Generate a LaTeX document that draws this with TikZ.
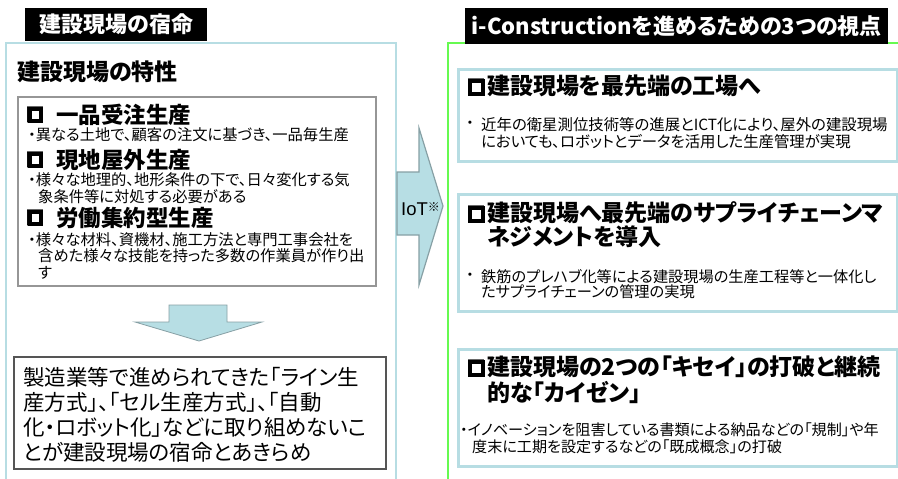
\documentclass[tikz,border=0pt]{standalone}
\usepackage{fontspec}
\setmainfont{Noto Sans CJK JP}[RawFeature=+palt]
\newfontfamily\latinf{Liberation Sans}
\definecolor{lblue}{RGB}{183,221,227}
\definecolor{afill}{RGB}{183,222,228}
\definecolor{adraw}{RGB}{135,160,165}
\definecolor{lgreen}{RGB}{102,250,80}
\definecolor{tgray}{RGB}{150,150,150}
\definecolor{bgray}{RGB}{85,85,85}
\begin{document}
\begin{tikzpicture}[x=1pt,y=-1pt,
  panel/.style={draw, line width=2pt, anchor=north west, inner sep=0pt, fill=white},
  titlebar/.style={fill=black, text=white, anchor=north west, inner sep=0pt, font=\bfseries\fontsize{22}{22}\selectfont},
  card/.style={draw=lblue, line width=2.5pt, anchor=north west, inner sep=0pt, fill=white},
  frame/.style={anchor=north west, inner sep=0pt, line width=1.5pt},
  txt/.style={anchor=west, inner sep=0pt, align=left},
  head/.style={txt, font=\bfseries\fontsize{22.5}{24}\selectfont},
  rhead/.style={txt, font=\bfseries\fontsize{23}{24}\selectfont},
  sq/.style={anchor=center, inner sep=0pt, font=\bfseries\fontsize{20}{20}\selectfont},
  sqL/.style={line width=4pt},
  small/.style={txt, font=\fontsize{15.3}{16.5}\selectfont},
  blockarrow/.style={fill=afill, draw=adraw}
]
\useasboundingbox (0,0) rectangle (898,479);
\clip (0,0) rectangle (898,479);
\fill[white] (0,0) rectangle (898,479);

% panels
\node[panel, draw=lblue, minimum width=390pt, minimum height=460pt] (lpanel) at (5,42) {};
\node[panel, draw=lgreen, minimum width=460pt, minimum height=460pt] (rpanel) at (447,42) {};

% title bars
\node[titlebar, minimum width=182pt, minimum height=33pt] (ltitle) at (25,8) {建設現場の宿命};
\node[titlebar, minimum width=423pt, minimum height=36pt] (rtitle) at (465,8) {i-Constructionを進めるための3つの視点};

% left content
\node[head, font=\bfseries\fontsize{23}{24}\selectfont] (lsub) at (17,72) {建設現場の特性};
\node[frame, draw=tgray, minimum width=358pt, minimum height=189pt] (traits) at (17,96) {};

\node[sq] (s1) at (35.5,115) {□};
\draw[sqL] ([shift={(-5.8,-5.8)}]s1.center) rectangle ([shift={(5.8,5.8)}]s1.center);
\node[head] (h1) at (56,115) {一品受注生産};
\node[small] (b1) at (28,135) {・異なる土地で、顧客の注文に基づき、一品毎生産};

\node[sq] (s2) at (35.5,160) {□};
\draw[sqL] ([shift={(-5.8,-5.8)}]s2.center) rectangle ([shift={(5.8,5.8)}]s2.center);
\node[head] (h2) at (56,160) {現地屋外生産};
\node[small] (b2) at (28,188) {・様々な地理的、地形条件の下で、日々変化する気\\\hspace*{10pt}象条件等に対処する必要がある};

\node[sq] (s3) at (35.5,218) {□};
\draw[sqL] ([shift={(-5.8,-5.8)}]s3.center) rectangle ([shift={(5.8,5.8)}]s3.center);
\node[head] (h3) at (56,218) {労働集約型生産};
\node[small] (b3) at (28,255.5) {・様々な材料、資機材、施工方法と専門工事会社を\\\hspace*{10pt}含めた様々な技能を持った多数の作業員が作り出\\\hspace*{10pt}す};

\filldraw[blockarrow, line width=0.8pt] (169,305) -- (227,305) -- (227,322) -- (262,322) -- (199,341) -- (135,322) -- (169,322) -- cycle;

\node[frame, draw=bgray, minimum width=372pt, minimum height=112pt] (fate) at (13,356) {};
\node[txt, font=\fontsize{21.5}{25}\selectfont] (fatetxt) at (23,414.5) {製造業等で進められてきた「ライン生\\産方式」、「セル生産方式」、「自動\\化・ロボット化」などに取り組めないこ\\とが建設現場の宿命とあきらめ};

% IoT arrow
\filldraw[blockarrow, line width=1.2pt] (397,172) -- (419,172) -- (419,128) -- (443,206) -- (419,285) -- (419,235) -- (397,235) -- cycle;
\node[txt, font=\latinf\fontsize{18.5}{18}\selectfont] (iot) at (401,209) {IoT\raisebox{4pt}{\normalfont\fontsize{12}{12}\selectfont ※}};

% right cards
\node[card, minimum width=439pt, minimum height=92pt] (c1) at (457,68) {};
\node[card, minimum width=439pt, minimum height=117pt] (c2) at (457,193) {};
\node[card, minimum width=439pt, minimum height=117pt] (c3) at (457,348) {};

\node[sq] (r1) at (476,87) {□};
\draw[sqL] ([shift={(-6.5,-6.5)}]r1.center) rectangle ([shift={(6.5,6.5)}]r1.center);
\node[rhead] (t1) at (487,86) {建設現場を最先端の工場へ};
\node[small] (d1) at (466,125) {・};
\node[small, font=\fontsize{15.4}{17}\selectfont] (e1) at (481,133.5) {近年の衛星測位技術等の進展とICT化により、屋外の建設現場\\においても、ロボットとデータを活用した生産管理が実現};

\node[sq] (r2) at (476,214) {□};
\draw[sqL] ([shift={(-6.5,-6.5)}]r2.center) rectangle ([shift={(6.5,6.5)}]r2.center);
\node[rhead] (t2) at (487,225) {建設現場へ最先端のサプライチェーンマ\\ネジメントを導入};
\node[small] (d2) at (466,277) {・};
\node[small, font=\fontsize{15.2}{15}\selectfont] (e2) at (481,284) {鉄筋のプレハブ化等による建設現場の生産工程等と一体化し\\たサプライチェーンの管理の実現};

\node[sq] (r3) at (476,368) {□};
\draw[sqL] ([shift={(-6.5,-6.5)}]r3.center) rectangle ([shift={(6.5,6.5)}]r3.center);
\node[rhead, font=\bfseries\fontsize{23}{26}\selectfont] (t3) at (487,380) {建設現場の2つの「キセイ」の打破と継続\\的な「カイゼン」};
\node[small, font=\fontsize{15.1}{17}\selectfont] (e3) at (460,438.5) {・イノベーションを阻害している書類による納品などの「規制」や年\\\hspace*{12pt}度末に工期を設定するなどの「既成概念」の打破};
\end{tikzpicture}
\end{document}
